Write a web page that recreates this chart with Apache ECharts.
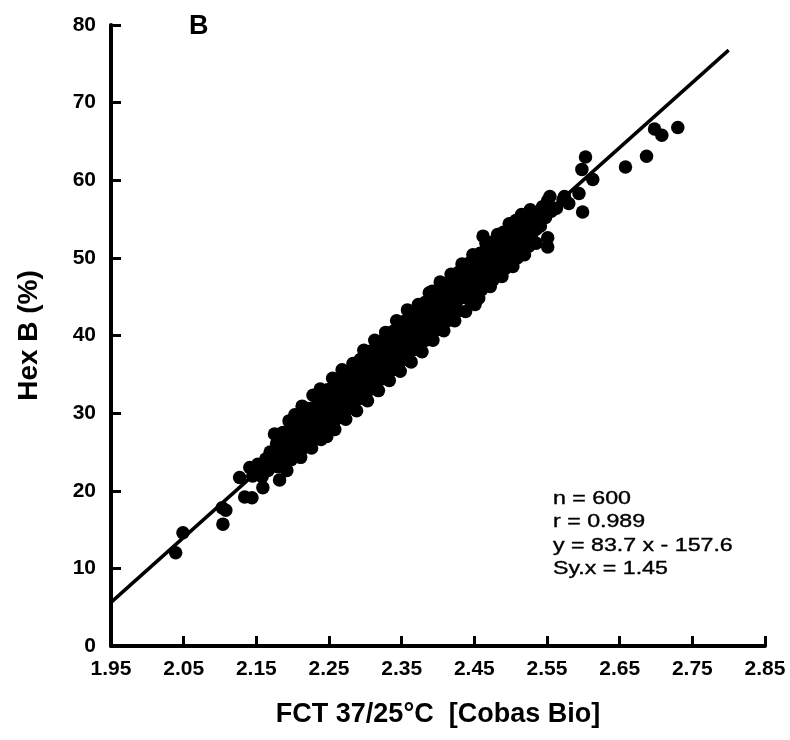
<!DOCTYPE html>
<html>
<head>
<meta charset="utf-8">
<script src="https://cdn.jsdelivr.net/npm/echarts@6/dist/echarts.min.js"></script>
<style>
  html, body { margin: 0; padding: 0; background: #fff; }
  #chart { width: 790px; height: 740px; }
</style>
</head>
<body>
<div id="chart"></div>
<script>
// FCT 37/25°C vs Hex B (%)
const lowTail = [
  [2.039, 12.0], [2.049, 14.6], [2.104, 15.7], [2.108, 17.5], [2.103, 17.8],
  [2.127, 21.7], [2.134, 19.2], [2.144, 19.1], [2.141, 23.0], [2.159, 20.4],
  [2.182, 21.4], [2.180, 23.1], [2.169, 25.0], [2.206, 24.6], [2.203, 29.8],
  [2.187, 27.5], [2.247, 27.0], [2.224, 26.2]
];

const band = [
  [2.145, 21.9], [2.152, 23.4], [2.158, 21.8], [2.163, 24.1], [2.166, 22.6],
  [2.172, 24.6], [2.176, 23.2], [2.178, 26.1], [2.183, 24.0],
  [2.185, 25.6], [2.188, 23.8], [2.191, 26.9], [2.194, 24.5], [2.196, 27.8], [2.198, 25.1],
  [2.201, 26.3], [2.203, 28.6], [2.205, 24.9], [2.207, 27.4], [2.209, 25.8], [2.212, 29.1], [2.214, 26.6],
  [2.216, 27.9], [2.218, 25.7], [2.219, 29.6], [2.221, 28.4], [2.223, 26.9], [2.225, 30.2], [2.227, 27.6], [2.229, 29.0],
  [2.231, 30.8], [2.232, 27.1], [2.234, 29.7], [2.236, 31.3], [2.237, 28.4], [2.239, 30.2], [2.241, 27.8], [2.243, 31.9], [2.244, 29.4],
  [2.246, 30.9], [2.247, 28.6], [2.249, 32.4], [2.251, 30.1], [2.252, 33.0], [2.254, 29.3], [2.256, 31.7], [2.257, 28.9], [2.259, 32.8],
  [2.261, 31.2], [2.262, 34.1], [2.264, 30.0], [2.266, 32.6], [2.267, 29.8], [2.269, 33.5], [2.271, 31.4], [2.272, 34.6], [2.274, 30.6], [2.276, 32.9],
  [2.277, 33.8], [2.279, 31.0], [2.281, 35.0], [2.282, 32.3], [2.284, 34.2], [2.286, 31.6], [2.287, 33.4], [2.289, 35.6], [2.291, 32.8],
  [2.292, 34.9], [2.294, 32.1], [2.296, 36.0], [2.297, 33.7], [2.299, 35.2], [2.301, 32.6], [2.302, 34.4], [2.304, 36.7], [2.306, 33.3],
  [2.307, 35.8], [2.309, 37.2], [2.311, 34.1], [2.312, 36.4], [2.314, 33.5], [2.316, 35.3], [2.317, 37.8], [2.319, 34.8], [2.321, 36.9],
  [2.322, 35.6], [2.324, 38.3], [2.326, 34.9], [2.327, 37.1], [2.329, 39.0], [2.331, 36.2], [2.332, 38.1], [2.334, 35.7], [2.336, 37.7],
  [2.337, 39.4], [2.339, 36.8], [2.341, 38.6], [2.342, 40.3], [2.344, 37.3], [2.346, 39.2], [2.347, 36.5], [2.349, 40.8], [2.351, 38.0],
  [2.352, 39.7], [2.354, 37.6], [2.356, 41.3], [2.357, 38.8], [2.359, 40.2], [2.361, 37.9], [2.362, 42.0], [2.364, 39.1], [2.366, 40.9],
  [2.367, 38.6], [2.369, 41.6], [2.371, 39.9], [2.372, 42.6], [2.374, 38.9], [2.376, 41.0], [2.377, 43.1], [2.379, 40.3], [2.381, 42.2],
  [2.382, 39.8], [2.384, 41.7], [2.386, 43.5], [2.387, 40.9], [2.389, 42.8], [2.391, 40.4], [2.392, 44.0], [2.394, 41.9], [2.396, 43.3],
  [2.397, 41.3], [2.399, 44.6], [2.401, 42.5], [2.402, 45.1], [2.404, 41.8], [2.406, 43.9], [2.407, 45.6], [2.409, 42.7], [2.411, 44.5],
  [2.412, 46.0], [2.414, 43.2], [2.416, 45.2], [2.417, 42.6], [2.419, 46.5], [2.421, 44.1], [2.422, 47.0], [2.424, 43.6],
  [2.426, 45.8], [2.427, 47.4], [2.429, 44.7], [2.431, 46.4], [2.432, 48.1], [2.434, 45.3], [2.436, 47.1], [2.438, 44.9],
  [2.439, 48.5], [2.441, 46.2], [2.443, 47.8], [2.445, 45.7], [2.447, 49.0], [2.449, 46.9], [2.451, 48.3],
  [2.453, 47.2], [2.455, 49.6], [2.457, 46.5], [2.459, 48.8], [2.461, 50.2], [2.463, 47.6], [2.465, 49.3],
  [2.467, 48.1], [2.469, 50.7], [2.471, 49.0], [2.473, 51.3], [2.475, 47.9], [2.477, 50.0],
  [2.479, 51.8], [2.481, 49.4], [2.483, 50.9], [2.485, 48.8], [2.487, 52.2], [2.489, 50.3],
  [2.491, 51.6], [2.493, 49.7], [2.495, 52.9], [2.497, 50.8], [2.499, 53.4],
  [2.502, 51.2], [2.504, 52.6], [2.506, 50.6], [2.509, 53.8], [2.511, 52.0],
  [2.514, 54.3], [2.516, 51.5], [2.518, 53.1], [2.521, 55.0],
  [2.523, 52.4], [2.526, 54.6], [2.529, 53.0], [2.532, 55.4],
  [2.535, 53.7], [2.538, 55.9], [2.541, 54.1], [2.544, 56.6], [2.548, 55.2], [2.551, 57.4], [2.556, 56.0]
];

// points along the upper and lower fringe of the cloud
const bandEdge = [
  [2.175, 27.3], [2.195, 29.0], [2.213, 30.9], [2.228, 32.3], [2.238, 33.1], [2.255, 34.5],
  [2.268, 35.6], [2.283, 36.4], [2.298, 38.1], [2.313, 39.4], [2.328, 40.4], [2.343, 41.9],
  [2.358, 43.3], [2.373, 44.0], [2.388, 45.5], [2.403, 46.9], [2.418, 47.9], [2.433, 49.2],
  [2.448, 50.4], [2.466, 51.9], [2.482, 53.0], [2.498, 54.4], [2.527, 56.2],
  [2.192, 22.6], [2.211, 24.3], [2.226, 25.5], [2.239, 26.6], [2.258, 27.9], [2.273, 29.2],
  [2.288, 30.3], [2.303, 31.6], [2.318, 32.9], [2.333, 34.2], [2.348, 35.4], [2.363, 36.6],
  [2.378, 37.9], [2.393, 39.4], [2.408, 40.6], [2.423, 41.9], [2.438, 43.1], [2.456, 44.8],
  [2.472, 46.3], [2.488, 47.6], [2.503, 48.9], [2.519, 50.4], [2.535, 51.9],
  [2.185, 27.4], [2.205, 29.1], [2.222, 30.6], [2.235, 31.8], [2.248, 33.0], [2.263, 34.2],
  [2.278, 35.4], [2.293, 36.9], [2.308, 38.0], [2.323, 39.3], [2.338, 40.5], [2.353, 41.8],
  [2.368, 43.0], [2.383, 44.3], [2.398, 45.6], [2.413, 46.8], [2.428, 48.1], [2.444, 49.4],
  [2.458, 50.6], [2.474, 52.0], [2.490, 53.3], [2.507, 54.8],
  [2.198, 24.0], [2.215, 25.5], [2.231, 26.8], [2.246, 28.1], [2.262, 29.4], [2.277, 30.6],
  [2.292, 31.9], [2.307, 33.1], [2.322, 34.4], [2.337, 35.6], [2.352, 36.9], [2.368, 38.2],
  [2.383, 39.4], [2.398, 40.7], [2.413, 41.9], [2.428, 43.2], [2.444, 44.5], [2.460, 45.9],
  [2.476, 47.2], [2.492, 48.6], [2.509, 50.0], [2.525, 51.5]
];

const highTail = [
  [2.392, 45.7], [2.451, 44.0], [2.462, 52.8], [2.515, 55.6], [2.551, 51.4],
  [2.551, 52.6], [2.554, 57.9], [2.563, 56.4], [2.574, 57.9], [2.572, 57.5],
  [2.580, 57.0], [2.594, 58.3], [2.599, 55.9], [2.598, 61.4], [2.603, 63.0],
  [2.613, 60.1], [2.658, 61.7], [2.687, 63.1], [2.698, 66.6], [2.708, 65.8],
  [2.730, 66.8]
];

// regression: y = 83.7 x - 157.6, drawn over this x range
const fitSlope = 83.7;
const fitIntercept = -157.6;
const fitRange = [1.95, 2.80];

const statsLines = ['n = 600', 'r = 0.989', 'y = 83.7 x - 157.6', 'Sy.x = 1.45'];

const chart = echarts.init(document.getElementById('chart'));
const font = 'Liberation Sans, Arial, sans-serif';

const axisLine = { lineStyle: { color: '#000', width: 4 } };
const axisTick = { inside: true, length: 10, lineStyle: { color: '#000', width: 3 } };

chart.setOption({
  animation: false,
  grid: { left: 111, right: 25, top: 25, bottom: 94 },
  xAxis: {
    type: 'value',
    min: 1.95,
    max: 2.85,
    interval: 0.1,
    name: 'FCT 37/25°C  [Cobas Bio]',
    nameLocation: 'middle',
    nameGap: 55,
    nameTextStyle: { fontFamily: font, fontSize: 27, fontWeight: 'bold', color: '#000' },
    axisLine,
    axisTick,
    splitLine: { show: false },
    axisLabel: {
      margin: 13,
      fontFamily: font, fontSize: 21, fontWeight: 'bold', color: '#000',
      formatter: v => v.toFixed(2)
    }
  },
  yAxis: {
    type: 'value',
    min: 0,
    max: 80,
    interval: 10,
    name: 'Hex B (%)',
    nameLocation: 'middle',
    nameGap: 68,
    nameTextStyle: { fontFamily: font, fontSize: 28, fontWeight: 'bold', color: '#000' },
    axisLine,
    axisTick,
    splitLine: { show: false },
    axisLabel: { margin: 15, fontFamily: font, fontSize: 21, fontWeight: 'bold', color: '#000' }
  },
  graphic: [
    {
      type: 'text', left: 189, top: 13,
      style: { text: 'B', fontFamily: font, fontSize: 27, fontWeight: 'bold', fill: '#000' }
    },
    {
      type: 'text', x: 553, y: 487, scaleX: 1.22,
      style: {
        text: statsLines.join('\n'),
        fontFamily: font, fontSize: 19, lineHeight: 23.5, fill: '#000',
        stroke: '#000', lineWidth: 0.4
      }
    }
  ],
  series: [
    {
      type: 'line',
      data: fitRange.map(x => [x, fitSlope * x + fitIntercept]),
      symbol: 'none',
      lineStyle: { color: '#000', width: 3.5 },
      z: 3
    },
    {
      type: 'scatter',
      data: lowTail.concat(band, bandEdge, highTail),
      symbol: 'circle',
      symbolSize: 13.5,
      itemStyle: { color: '#000', opacity: 1 },
      z: 2
    }
  ]
});
</script>
</body>
</html>
